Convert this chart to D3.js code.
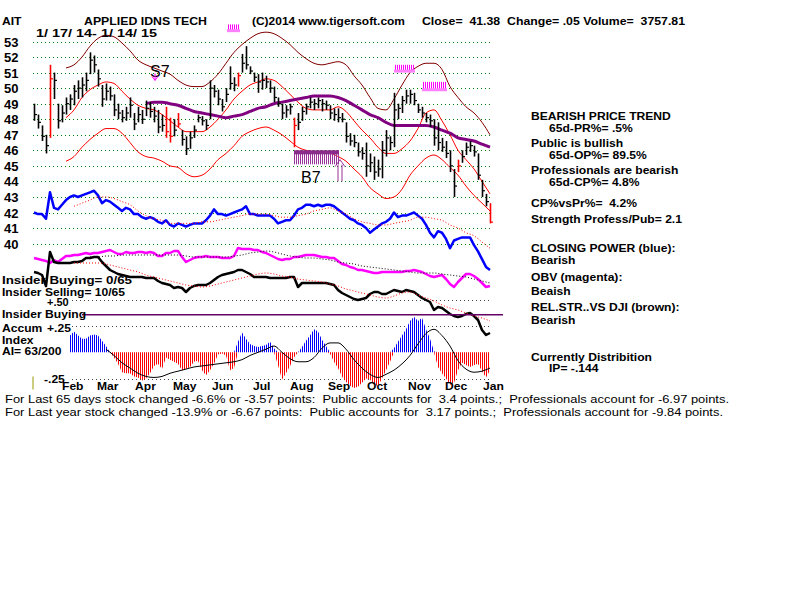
<!DOCTYPE html>
<html><head><meta charset="utf-8">
<script src="https://cdn.jsdelivr.net/npm/d3@7"></script>
<style>body{margin:0;background:#fff}svg text{font-family:"Liberation Sans",Arial,sans-serif;font-weight:bold;font-size:11px;fill:#000;white-space:pre}</style>
</head><body><svg id="c" width="800" height="600"></svg>
<script>
// ---------- DATA ----------
// price bars (one bar per 2 trading slots)
const hi = [49.0,48.3,47.6,47.0,51.5,51.0,49.0,48.9,49.4,49.6,
50.2,50.5,50.7,51.0,52.3,52.1,51.2,50.2,50.3,50.1,
49.6,49.0,48.6,48.8,49.4,48.4,48.8,48.6,49.2,49.1,
48.8,48.6,48.3,48.8,48.1,48.0,48.4,47.3,46.9,47.2,
47.6,48.3,48.2,48.0,50.5,50.2,49.9,49.3,50.0,51.4,
50.7,51.0,52.2,52.7,51.4,51.0,50.9,51.0,50.8,50.5,
50.1,49.4,49.0,48.9,49.0,48.1,48.4,48.8,49.0,49.4,
49.3,49.4,49.3,49.2,48.9,48.7,48.7,48.4,47.8,47.1,
47.0,46.5,46.2,46.5,45.8,45.6,45.4,46.6,47.3,46.9,
49.7,49.0,49.5,49.9,49.9,49.7,49.0,48.8,48.4,48.3,
48.0,47.8,46.8,46.6,46.0,44.8,45.4,46.0,46.5,46.6,
46.3,45.8,44.1,43.2,42.6];
const lo = [47.9,47.4,46.6,45.8,46.8,49.3,47.4,47.8,48.3,48.6,
48.9,49.3,49.4,49.8,50.9,51.0,50.1,48.8,49.2,49.2,
48.2,48.0,47.8,47.9,48.1,47.3,47.8,47.7,48.2,48.1,
47.8,47.1,47.2,46.8,46.5,46.9,47.5,46.3,45.7,46.1,
46.8,47.8,47.6,47.3,48.0,49.4,48.9,48.5,49.1,49.9,
49.8,50.1,51.0,51.2,50.9,50.4,49.7,49.9,50.0,49.7,
49.1,48.8,48.0,48.1,48.3,46.2,47.3,47.9,48.3,48.7,
48.6,48.7,48.5,48.6,48.0,47.9,47.8,47.8,46.5,46.3,
46.2,45.6,45.4,44.3,44.6,44.1,44.3,44.2,45.6,46.0,
46.2,48.0,48.4,49.0,49.0,48.9,48.4,48.1,47.8,47.5,
46.3,46.0,45.9,45.5,44.6,43.0,44.6,45.2,45.7,45.9,
45.6,44.1,43.0,42.4,41.3];
const closes = [48.3,47.8,46.9,46.3,50.6,50.5,47.9,48.4,49.0,49.3,
49.8,50.0,50.2,50.5,51.8,51.5,50.6,49.3,49.8,49.5,
48.6,48.4,48.1,48.4,48.9,47.7,48.3,48.0,48.7,48.5,
48.2,47.5,47.6,47.2,46.9,47.3,47.7,46.7,46.1,46.8,
47.3,48.1,47.9,47.6,50.0,49.8,49.3,48.8,49.6,50.3,
50.2,50.8,51.6,51.5,51.1,50.7,50.4,50.5,50.4,50.0,
49.4,49.0,48.4,48.6,48.8,47.6,47.8,48.5,48.8,49.1,
49.0,49.2,49.0,48.9,48.4,48.3,48.1,48.0,46.9,46.6,
46.5,45.9,45.8,45.0,45.2,44.6,44.8,46.0,46.8,46.5,
48.6,48.7,49.2,49.5,49.6,49.2,48.6,48.4,48.1,47.9,
46.8,46.5,46.2,45.8,45.0,43.7,45.0,45.6,46.2,46.3,
45.9,44.4,43.4,42.7,41.38];
const redBars = [4,33,34,36,51,65,106,114];

// bands / moving averages (one value per 4 slots)
const bandTop = [null,null,null,null,51.3,51.5,52.0,52.7,53.2,53.4,53.3,52.9,52.4,51.8,51.5,51.3,51.1,50.9,50.5,50.2,
50.1,50.1,50.4,50.9,51.6,52.3,52.8,53.2,53.5,53.6,53.5,53.2,52.8,52.3,51.9,51.6,51.5,51.6,51.7,51.5,
50.8,50.2,49.4,48.7,48.6,49.3,50.2,51.0,51.4,51.6,51.6,51.2,50.1,49.4,48.8,48.4,47.8,47.0];
const bandMid = [null,null,null,null,48.1,48.6,49.4,49.9,50.2,50.4,50.3,49.8,49.3,48.9,48.7,48.6,48.3,47.9,47.5,47.2,
47.2,47.2,47.5,48.0,48.6,49.3,49.8,50.2,50.4,50.6,50.5,50.1,49.6,49.1,48.7,48.6,48.6,48.6,48.8,48.5,
47.9,47.3,46.8,46.2,45.8,45.8,46.1,46.6,47.4,48.4,48.6,47.9,47.0,46.0,45.4,44.8,44.0,43.2];
const bandLow = [null,null,null,null,45.3,45.6,46.2,46.7,47.1,47.4,47.4,47.1,46.5,45.9,45.6,45.5,45.3,45.0,44.9,44.5,
44.3,44.4,44.8,45.4,45.8,46.3,46.9,47.2,47.4,47.5,47.3,47.0,46.6,46.2,46.0,45.9,45.8,45.8,45.6,45.3,
44.8,44.3,43.6,43.2,42.9,43.0,43.5,44.4,45.0,45.5,45.7,45.4,44.9,44.4,43.7,43.1,42.6,42.1];
const ma50 = [null,null,null,null,null,null,null,null,null,null,null,null,null,null,49.0,49.1,49.1,49.0,48.9,48.7,
48.5,48.4,48.3,48.2,48.1,48.2,48.3,48.5,48.7,48.8,49.0,49.1,49.2,49.3,49.4,49.5,49.5,49.5,49.4,49.2,
48.9,48.6,48.3,48.1,47.8,47.6,47.6,47.6,47.6,47.6,47.5,47.3,47.1,46.8,46.7,46.6,46.4,46.2];

// closing power (blue), plotted on the price scale
const closingPower = [42.0,41.9,41.9,41.6,43.3,42.3,42.2,42.5,42.8,43.0,
43.1,43.0,43.1,43.2,43.3,43.4,43.1,42.6,42.8,42.7,
42.5,42.3,42.1,42.3,42.2,41.9,41.9,41.7,41.6,41.7,
41.6,41.4,41.3,41.5,41.2,41.1,41.3,41.2,41.1,41.2,
41.3,41.3,41.3,41.5,41.8,42.2,41.9,41.9,41.8,41.9,
42.0,42.1,42.2,42.4,41.9,41.9,41.8,41.8,41.8,41.8,
41.6,41.3,41.4,41.5,41.5,41.8,42.2,42.3,42.5,42.5,
42.4,42.5,42.4,42.5,42.5,42.4,42.2,42.0,41.8,41.6,
41.5,41.3,41.2,41.0,40.7,40.9,41.1,41.3,41.4,41.6,
42.0,41.7,41.8,41.8,41.9,42.0,41.8,41.6,41.2,40.7,
40.4,40.8,40.7,40.3,39.7,40.2,40.3,40.4,40.4,40.4,
39.9,39.5,39.0,38.5,38.3];
const closingPowerMa = [null,null,null,null,null,42.4,42.6,42.8,43.0,43.0,42.9,42.7,42.5,42.1,41.8,41.6,41.5,41.3,41.3,41.3,
41.3,41.4,41.4,41.5,41.6,41.7,41.8,41.9,41.9,41.9,41.8,41.7,41.7,41.8,41.9,42.1,42.2,42.3,42.1,41.9,
41.6,41.4,41.3,41.2,41.2,41.3,41.4,41.5,41.7,41.7,41.6,41.5,41.2,41.0,40.7,40.5,40.1,39.7];

// OBV (magenta) and relative strength (black), relative units
const obv = [92,91,90,89,87,90,88,91,94,94, 95,95,96,97,96,97,97,98,99,100,
98,96,96,98,97,97,98,98,97,98, 97,94,94,97,97,99,99,93,88,90,
92,93,93,94,93,93,93,92,92,92, 94,102,101,101,101,100,100,98,97,95,
93,91,90,91,91,93,93,94,95,95, 95,94,93,93,92,92,89,86,85,83,
82,80,80,79,78,77,77,78,78,78, 78,78,78,79,79,80,79,78,76,74,
73,74,75,71,66,63,68,72,76,76, 74,71,67,63,64];
const obvMa = [null,null,null,null,null,null,null,93,93,94,94,95,95,95,95,95,95,95,95,94,
93,93,93,93,93,94,95,97,98,99,98,96,94,93,92,92,91,90,88,87,
86,84,83,82,81,80,79,78,77,77,77,76,75,74,73,71,69,67];
const relStr = [78,77,75,64,98,88,87,87,87,87, 88,88,89,92,92,93,93,88,84,80,
78,76,75,74,73,73,73,73,72,72, 72,69,67,66,65,62,63,62,58,62,
64,65,65,65,67,70,73,75,76,77, 78,80,80,78,76,73,73,73,73,72,
72,72,72,72,73,73,63,67,67,67, 67,67,67,67,66,65,60,57,55,53,
51,50,51,52,56,58,58,56,56,58, 60,59,58,60,59,58,55,52,50,48,
40,43,42,39,36,34,33,34,36,37, 34,30,20,15,17];
const relStrMa = [null,null,null,null,null,87,87,87,87,86,84,82,80,78,75,73,71,69,67,65,
64,63,64,66,68,70,72,74,76,77,76,74,73,71,70,69,68,66,64,61,
59,57,55,53,52,54,57,58,55,52,49,45,42,40,37,34,32,29];

// accumulation index
const accum = [null,null,null,null,null,null,null,null,null,
0.16,0.20,0.16,0.13,0.13,0.16,0.17,0.16,0.11,0.06,
0,-0.05,-0.11,-0.19,-0.20,-0.20,-0.23,-0.24,-0.27,-0.25,
-0.20,-0.13,-0.11,-0.16,-0.05,-0.07,-0.09,-0.11,-0.17,-0.16,
-0.14,-0.09,-0.08,-0.17,-0.22,-0.17,-0.11,-0.02,-0.01,-0.03,
-0.17,-0.15,0.10,0.19,0.13,0.08,0.06,0.05,0.06,0.07,
0.10,0.04,-0.12,-0.26,-0.20,-0.13,-0.05,0,0.05,0.11,
0.16,0.22,0.20,0.12,0.06,-0.01,-0.09,-0.15,-0.23,-0.28,
-0.32,-0.34,-0.33,-0.29,-0.25,-0.26,-0.31,-0.32,-0.25,-0.17,
-0.09,0.04,0.10,0.16,0.22,0.30,0.34,0.30,0.33,0.22,
0.13,0.01,-0.14,-0.20,-0.25,-0.31,-0.29,-0.17,-0.10,-0.12,
-0.14,-0.12,-0.11,-0.18,-0.24,-0.17];
const accumMa = [null,null,null,null,null,null,null,null,null,
0.03,-0.03,-0.10,-0.15,-0.20,-0.23,-0.24,-0.23,-0.20,-0.18,
-0.16,-0.14,-0.13,-0.12,-0.11,-0.10,-0.09,-0.07,-0.03,0,
0.03,0.06,0,-0.06,-0.09,-0.09,-0.05,0.04,0.09,0.09,
0.03,-0.07,-0.15,-0.21,-0.24,-0.21,-0.17,-0.11,-0.03,0.08,
0.18,0.22,0.16,0.06,-0.08,-0.16,-0.19,-0.18,-0.15];
const insiderLevel = 0.36;
const accumLines = [0.5, 0.25, -0.25];

const priceTicks = [53,52,51,50,49,48,47,46,45,44,43,42,41,40];
const months = ["Feb","Mar","Apr","May","Jun","Jul","Aug","Sep","Oct","Nov","Dec","Jan"];
const monthSlots = [14,31.5,50.5,69.5,89,109.5,128,147,166.5,187,205.5,224.5];

// signals: slot ranges and price levels
const sellClusters = [[97,102,54.1,53.6],[180.5,189.5,51.5,51.0],[194.5,205.5,50.4,49.8]];
const buyCluster = [130,152.5,46.0,45.1];
const s7 = {slot:58, price:50.7, arrowSlot:60.5, arrowTop:50.95};
const b7 = {slot:133.5, price:43.9, arrowSlot:153, arrowTop:45.4, arrowBot:44.0};

const rightText = [
 [0,120,"BEARISH PRICE TREND"],[1,132,"65d-PR%= .5%"],
 [0,147,"Public is bullish"],[1,159,"65d-OP%= 89.5%"],
 [0,174,"Professionals are bearish"],[1,186,"65d-CP%= 4.8%"],
 [0,207,"CP%vsPr%=  4.2%"],[0,223,"Strength Profess/Pub= 2.1"],
 [0,252,"CLOSING POWER (blue):"],[0,264,"Bearish"],
 [0,281,"OBV (magenta):"],[0,295,"Beaish"],
 [0,311,"REL.STR..VS DJI (brown):"],[0,324,"Bearish"],
 [0,361,"Currently Distribition"],[1,372,"IP= -.144"]];

// ---------- DRAW ----------
const svg = d3.select("#c");
const X = d3.scaleLinear().domain([0,228]).range([34,490]);
const YP = d3.scaleLinear().domain([40,53]).range([243.6,41.5]);
const YI = d3.scaleLinear().domain([0,100]).range([350,250]);
const YA = d3.scaleLinear().domain([-0.25,0.5]).range([378.5,300]);
const s4 = i=>i*2, s8 = i=>i*4;

const defs = svg.append("defs");
[["pb","#0000ff"],["pr","#ff0000"]].forEach(([id,c])=>{
  const p = defs.append("pattern").attr("id",id).attr("width",2).attr("height",4).attr("patternUnits","userSpaceOnUse");
  p.append("rect").attr("width",1).attr("height",4).attr("fill",c);
});

// price grid
svg.append("g").selectAll("line").data(priceTicks).join("line")
  .attr("x1",33).attr("x2",490).attr("y1",d=>Math.round(YP(d))+0.5).attr("y2",d=>Math.round(YP(d))+0.5)
  .attr("stroke","#008000").attr("stroke-dasharray","1,3");
svg.append("g").selectAll("text").data(priceTicks).join("text")
  .attr("x",4).attr("y",d=>YP(d)+5).style("font-size","13px").text(d=>d);

// accumulation grid
svg.append("g").selectAll("line").data(accumLines).join("line")
  .attr("x1",72).attr("x2",490).attr("y1",d=>Math.round(YA(d))+0.5).attr("y2",d=>Math.round(YA(d))+0.5)
  .attr("stroke","#444").attr("stroke-dasharray","1,3");

function line(arr, sx, y, color, w, dash, curve){
  const g = d3.line().defined(d=>d!=null).x((d,i)=>X(sx(i))).y(d=>y(d)).curve(curve||d3.curveLinear);
  svg.append("path").attr("d",g(arr)).attr("fill","none").attr("stroke",color).attr("stroke-width",w)
    .attr("stroke-linejoin","round").attr("stroke-dasharray",dash||null);
}

// bands
line(bandTop,s8,YP,"#800000",1,null,d3.curveMonotoneX);
line(bandMid,s8,YP,"#ff0000",1,null,d3.curveMonotoneX);
line(bandLow,s8,YP,"#ff0000",1,null,d3.curveMonotoneX);
line(ma50,s8,YP,"#800080",3,null,d3.curveMonotoneX);

// price bars
const bars = svg.append("g");
hi.forEach((h,i)=>{
  const x = Math.round(X(s4(i)))+0.5;
  const c = redBars.includes(i) ? "#ff0000" : "#000";
  bars.append("line").attr("x1",x).attr("x2",x).attr("y1",YP(h)).attr("y2",YP(lo[i])).attr("stroke",c).attr("stroke-width",1.6);
  bars.append("line").attr("x1",x).attr("x2",x+2.5).attr("y1",YP(closes[i])).attr("y2",YP(closes[i])).attr("stroke",c).attr("stroke-width",1.2);
});

// indicators
line(closingPower,s4,YP,"#0000ff",2.5);
line(closingPowerMa,s8,YP,"#ff0000",1,"1,2",d3.curveMonotoneX);
line(obv,s4,YI,"#ff00ff",2.5);
line(obvMa,s8,YI,"#000",1,"1,2",d3.curveMonotoneX);
line(relStr,s4,YI,"#000",2.5);
line(relStrMa,s8,YI,"#ff0000",1,"1,2",d3.curveMonotoneX);

// accumulation histogram
const areaPos = d3.area().defined(d=>d!=null).x((d,i)=>X(s4(i))).y0(YA(0)).y1(d=>YA(Math.max(0,d)));
const areaNeg = d3.area().defined(d=>d!=null).x((d,i)=>X(s4(i))).y0(YA(0)).y1(d=>YA(Math.min(0,d)));
svg.append("path").attr("d",areaPos(accum)).attr("fill","url(#pb)");
svg.append("path").attr("d",areaNeg(accum)).attr("fill","url(#pr)");
line(accumMa,s8,YA,"#000",1,null,d3.curveMonotoneX);
svg.append("line").attr("x1",82).attr("x2",503).attr("y1",YA(insiderLevel)).attr("y2",YA(insiderLevel))
  .attr("stroke","#660066").attr("stroke-width",1.5);

// signals
const sig = svg.append("g");
sellClusters.forEach(([a,b,pt,pb])=>{
  const x0=X(a), x1=X(b), yt=YP(pt), yb=YP(pb);
  for(let x=Math.round(x0); x<=x1; x+=2)
    sig.append("line").attr("x1",x+0.5).attr("x2",x+0.5).attr("y1",yt).attr("y2",yb-2).attr("stroke","#ff00ff").attr("stroke-width",1);
  sig.append("rect").attr("x",x0-1).attr("y",yb-3).attr("width",x1-x0+3).attr("height",3).attr("fill","#ff80ff");
});
{
  const [a,b,pt,pb] = buyCluster; const x0=X(a), x1=X(b), yt=YP(pt), yb=YP(pb);
  for(let x=Math.round(x0); x<=x1; x+=2)
    sig.append("line").attr("x1",x+0.5).attr("x2",x+0.5).attr("y1",yt).attr("y2",yb).attr("stroke","#993399").attr("stroke-width",1);
  sig.append("rect").attr("x",x0).attr("y",yt).attr("width",x1-x0).attr("height",4).attr("fill","#8a2a8a");
}
sig.append("text").attr("x",X(s7.slot)).attr("y",YP(s7.price)).style("font-size","16px").style("font-weight","normal").text("S7");
{
  const x=X(s7.arrowSlot), y=YP(s7.arrowTop);
  sig.append("path").attr("d",`M${x},${y}V${y+7}M${x-3},${y+3}L${x},${y+7}L${x+3},${y+3}`).attr("stroke","#ff00ff").attr("fill","none");
}
sig.append("text").attr("x",X(b7.slot)).attr("y",YP(b7.price)).style("font-size","16px").style("font-weight","normal").text("B7");
{
  const x=X(b7.arrowSlot), yt=YP(b7.arrowTop), yb=YP(b7.arrowBot);
  sig.append("path").attr("d",`M${x-2},${yt+5}V${yb}M${x+2},${yt+5}V${yb}M${x-5},${yt+7}L${x},${yt}L${x+5},${yt+7}`)
    .attr("stroke","#993399").attr("stroke-width",1).attr("fill","none");
}
svg.append("line").attr("x1",X(-0.5)).attr("x2",X(-0.5)).attr("y1",YA(-0.25)-2).attr("y2",YA(-0.25)+11).attr("stroke","#999900");

// text helper: 11px bold glyphs widened to the reference's wider face
const T=(x,y,s,o={})=>{const t=svg.append("text").attr("x",x).attr("y",y).text(s);
  if(o.size) t.style("font-size",o.size); if(o.normal) t.style("font-weight","normal");
  const w = o.len || t.node().getComputedTextLength()*1.1;
  t.attr("textLength",w).attr("lengthAdjust","spacingAndGlyphs"); return t;};

// months
months.forEach((m,i)=>T(X(monthSlots[i]),390,m));

// header
T(2,25,"AIT");
T(84,25,"APPLIED IDNS TECH",{len:123});
T(252,25,"(C)2014 www.tigersoft.com",{len:153});
T(422,25,"Close=  41.38  Change= .05 Volume=  3757.81",{len:263});
T(36,37,"1/ 17/ 14- 1/ 14/ 15",{len:121});

// left panel
T(2,284,"Insider Buying= 0/65",{len:130});
T(2,296,"Insider Selling= 10/65",{len:123});
T(47,306,"+.50",{size:"10px"});
T(2,318,"Insider Buying");
T(2,332,"Accum");
T(47,332,"+.25");
T(2,344,"Index");
T(2,355,"AI= 63/200");
T(44,383,"-.25");

// right panel
rightText.forEach(([ind,y,s])=>T(ind?549:531,y,s));

// bottom
T(5,403,"For Last 65 days stock changed -6.6% or -3.57 points:  Public accounts for  3.4 points.;  Professionals account for -6.97 points.",{len:724,normal:true,size:"11.5px"});
T(5,416,"For Last year stock changed -13.9% or -6.67 points:  Public accounts for  3.17 points.;  Professionals account for -9.84 points.",{len:718,normal:true,size:"11.5px"});
</script></body></html>
